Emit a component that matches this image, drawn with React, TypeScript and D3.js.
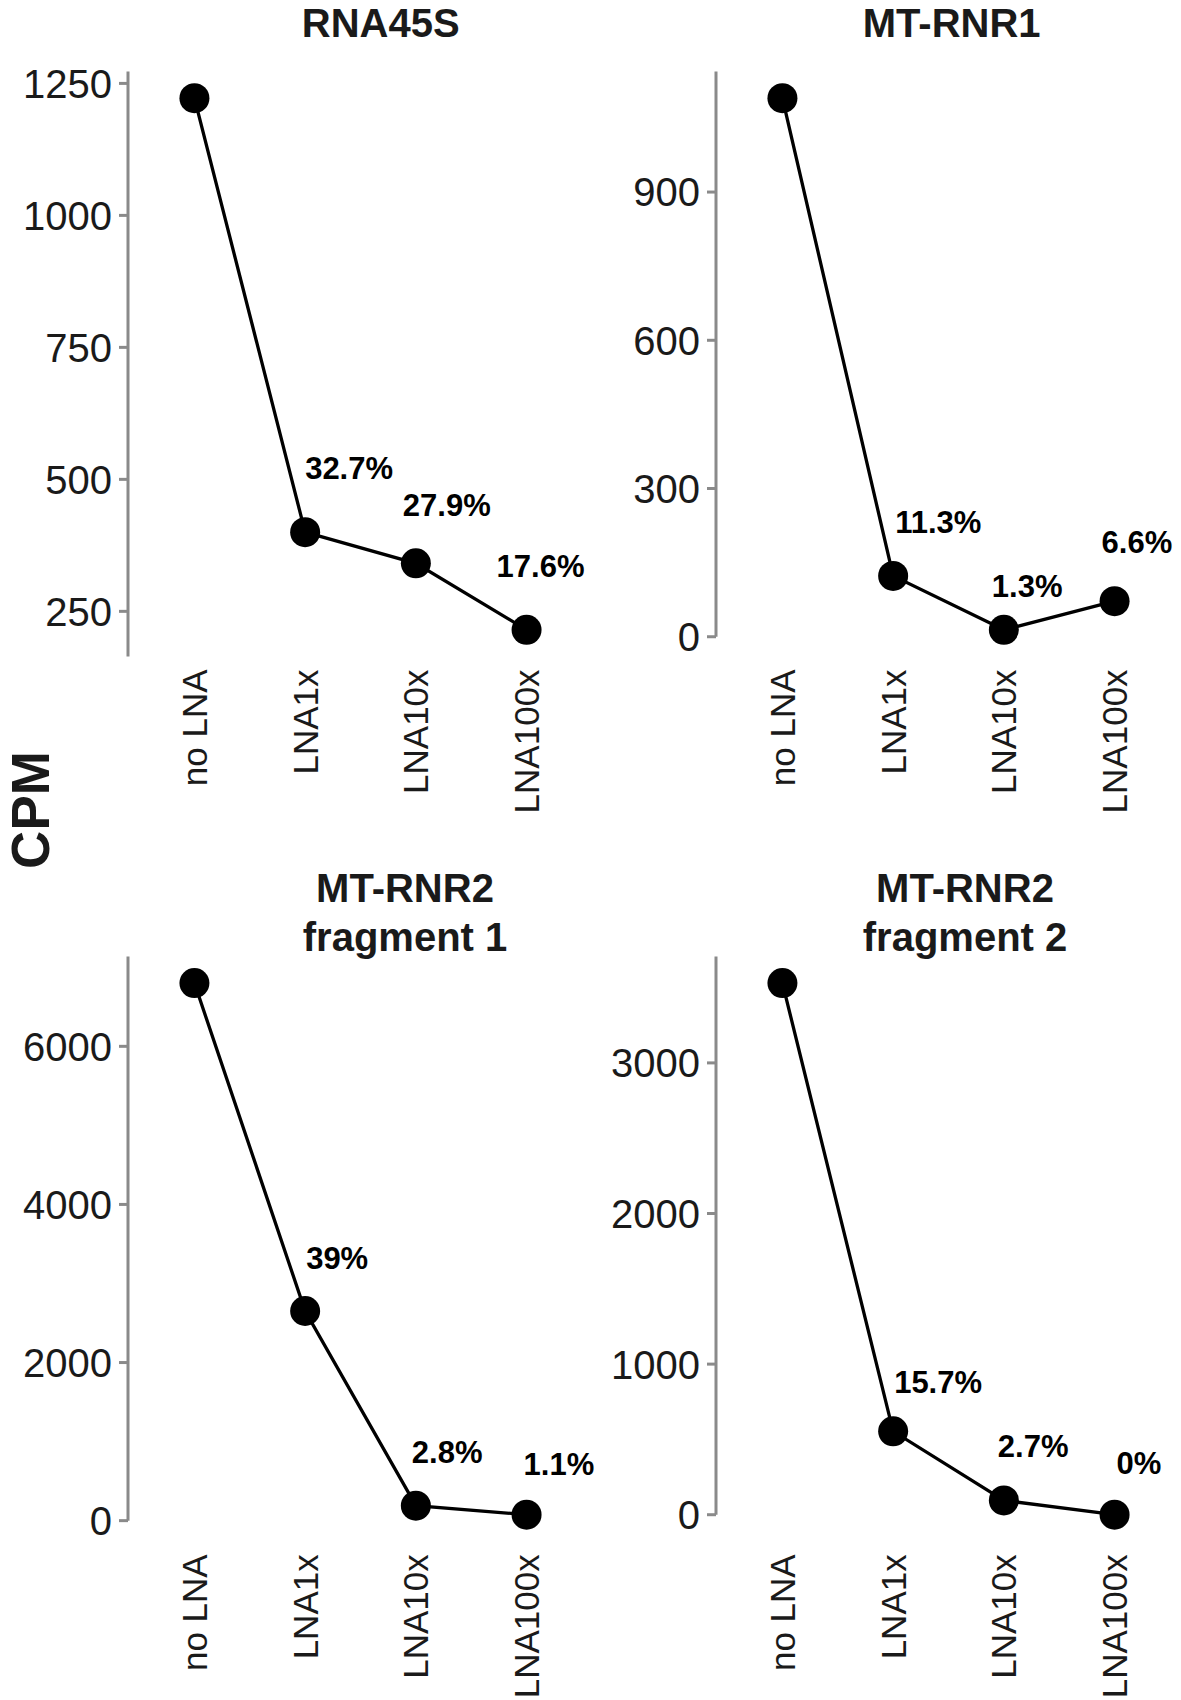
import React from "react";
import * as d3 from "d3";

// ---- data ----
const categories = ["no LNA", "LNA1x", "LNA10x", "LNA100x"];

const rna45sValues = [1222, 400, 341, 215];
const mtRnr1Values = [1090, 123, 14, 72];
const mtRnr2Frag1Values = [6800, 2652, 190, 75];
const mtRnr2Frag2Values = [3530, 554, 95, 0];

const rna45sLabels = ["", "32.7%", "27.9%", "17.6%"];
const mtRnr1Labels = ["", "11.3%", "1.3%", "6.6%"];
const mtRnr2Frag1Labels = ["", "39%", "2.8%", "1.1%"];
const mtRnr2Frag2Labels = ["", "15.7%", "2.7%", "0%"];

const rna45sTicks = [250, 500, 750, 1000, 1250];
const mtRnr1Ticks = [0, 300, 600, 900];
const mtRnr2Frag1Ticks = [0, 2000, 4000, 6000];
const mtRnr2Frag2Ticks = [0, 1000, 2000, 3000];

const panelTitles = [["RNA45S"], ["MT-RNR1"], ["MT-RNR2", "fragment 1"], ["MT-RNR2", "fragment 2"]];
const yAxisTitle = "CPM";

// ---- layout (not data) ----
const FONT = "'Liberation Sans', Arial, Helvetica, sans-serif";
const COL_LEFT = [128, 716];
const ROW_TOP = [71.6, 956.5];
const PANEL_W = 465;
const PANEL_H = 584.8;
const TITLE_X = [380.7, 951.7, 405, 965];
const TITLE_BASE = [[37], [37], [902, 951], [902, 951]];
// label offsets (dx from point centre to text start, dy from point centre to baseline)
const LABEL_NUDGE = [
  [[0, 0], [0, -53], [-13, -47], [-30, -53]],
  [[0, 0], [2, -43], [-12, -33], [-13, -48]],
  [[0, 0], [1, -42], [-4, -43], [-3, -40]],
  [[0, 0], [1, -38], [-6, -43], [2, -41]],
];

const panels = [
  { values: rna45sValues, labels: rna45sLabels, ticks: rna45sTicks },
  { values: mtRnr1Values, labels: mtRnr1Labels, ticks: mtRnr1Ticks },
  { values: mtRnr2Frag1Values, labels: mtRnr2Frag1Labels, ticks: mtRnr2Frag1Ticks },
  { values: mtRnr2Frag2Values, labels: mtRnr2Frag2Labels, ticks: mtRnr2Frag2Ticks },
];

const AXIS_COLOR = "#8a8a8a";
const TEXT_COLOR = "#1a1a1a";

function Panel({ idx }: { idx: number }) {
  const p = panels[idx];
  const col = idx % 2;
  const row = Math.floor(idx / 2);
  const left = COL_LEFT[col];
  const top = ROW_TOP[row];
  const bottom = top + PANEL_H;

  const x = d3.scalePoint<string>().domain(categories).range([left, left + PANEL_W]).padding(0.6);
  const [mn, mx] = d3.extent(p.values) as [number, number];
  const pad = (mx - mn) * 0.05;
  const y = d3.scaleLinear().domain([mn - pad, mx + pad]).range([bottom, top]);
  const lineBottom = y(Math.max(0, mn - pad));

  const line = d3
    .line<number>()
    .x((_, i) => x(categories[i]) as number)
    .y((d) => y(d));

  return (
    <g>
      {panelTitles[idx].map((t, i) => (
        <text
          key={i}
          x={TITLE_X[idx]}
          y={TITLE_BASE[idx][i]}
          textAnchor="middle"
          fontFamily={FONT}
          fontWeight="bold"
          fontSize={40}
          fill={TEXT_COLOR}
        >
          {t}
        </text>
      ))}
      <line x1={left} x2={left} y1={top} y2={lineBottom} stroke={AXIS_COLOR} strokeWidth={3} />
      {p.ticks.map((t) => (
        <g key={t}>
          <line x1={left - 9} x2={left} y1={y(t)} y2={y(t)} stroke={AXIS_COLOR} strokeWidth={3} />
          <text
            x={left - 16}
            y={y(t)}
            dy="0.36em"
            textAnchor="end"
            fontFamily={FONT}
            fontSize={40}
            fill={TEXT_COLOR}
          >
            {t}
          </text>
        </g>
      ))}
      {categories.map((c) => (
        <text
          key={c}
          transform={`translate(${x(c)},${bottom + 13}) rotate(-90)`}
          dy="0.36em"
          textAnchor="end"
          fontFamily={FONT}
          fontSize={35}
          fill={TEXT_COLOR}
        >
          {c}
        </text>
      ))}
      <path d={line(p.values) as string} fill="none" stroke="#000" strokeWidth={3.3} />
      {p.values.map((v, i) => (
        <circle key={i} cx={x(categories[i])} cy={y(v)} r={15} fill="#000" />
      ))}
      {p.labels.map((l, i) =>
        l ? (
          <text
            key={i}
            x={(x(categories[i]) as number) + LABEL_NUDGE[idx][i][0]}
            y={y(p.values[i]) + LABEL_NUDGE[idx][i][1]}
            fontFamily={FONT}
            fontWeight="bold"
            fontSize={31}
            fill="#000"
          >
            {l}
          </text>
        ) : null
      )}
    </g>
  );
}

export default function App() {
  return (
    <svg
      width={1181}
      height={1700}
      style={{ position: "absolute", left: 0, top: 0, background: "#fff" }}
    >
      <rect width={1181} height={1700} fill="#fff" />
      {panels.map((_, i) => (
        <Panel key={i} idx={i} />
      ))}
      <text
        transform="translate(48.5,810) rotate(-90)"
        textAnchor="middle"
        fontFamily={FONT}
        fontWeight="bold"
        fontSize={53}
        fill={TEXT_COLOR}
      >
        {yAxisTitle}
      </text>
    </svg>
  );
}
